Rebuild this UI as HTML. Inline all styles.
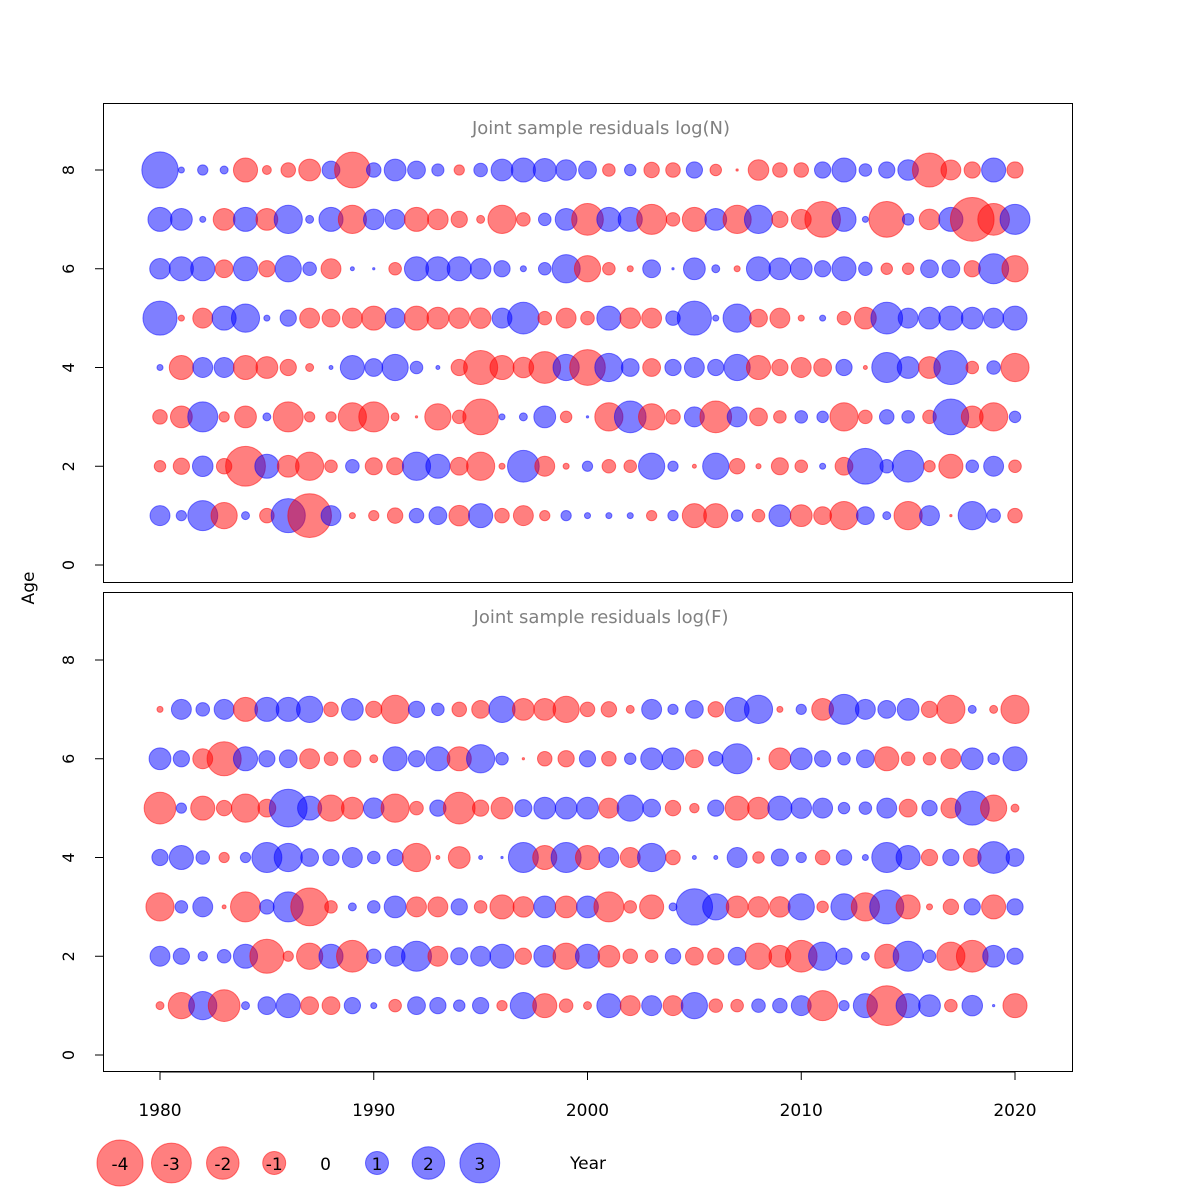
<!DOCTYPE html>
<html><head><meta charset="utf-8"><style>
body{margin:0;background:#fff}
svg{display:block;font-family:"DejaVu Sans","Liberation Sans",sans-serif}
</style></head><body>
<svg id="chart" width="1200" height="1200" viewBox="0 0 1200 1200" xmlns="http://www.w3.org/2000/svg">
<rect width="1200" height="1200" fill="#fff"/>
<g id="g"></g>
</svg>
<script>
const years = [];
for (let y = 1980; y <= 2020; y++) years.push(y);
const xTicks = [1980, 1990, 2000, 2010, 2020];
const yTicks = [0, 2, 4, 6, 8];
const legendValues = [-4, -3, -2, -1, 0, 1, 2, 3];
const topAges = [1, 2, 3, 4, 5, 6, 7, 8];
const bottomAges = [1, 2, 3, 4, 5, 6, 7];

const topN = {
8:[2.5,0.07,0.2,0.12,-1.1,-0.15,-0.4,-0.9,0.6,-2.4,0.4,0.9,0.6,0.28,-0.2,0.35,0.9,1.1,1.0,0.8,0.6,-0.3,0.25,-0.45,-0.4,0.5,-0.25,-0.01,-0.8,-0.4,-0.4,0.5,1.1,0.3,0.5,0.8,-2.2,-0.75,-0.5,1.1,-0.5],
7:[1.1,0.9,0.07,-0.9,1.1,-0.9,1.5,0.12,1.1,-1.5,0.8,0.75,-1.1,-0.8,-0.5,-0.12,-1.5,-0.35,0.3,0.9,-1.9,1.1,1.1,-1.7,-0.35,-1.1,0.9,-1.5,1.5,-0.5,-0.75,-2.4,1.1,0.07,-2.4,0.25,-0.8,1.1,-3.6,-1.9,1.7],
6:[0.8,1.1,1.1,-0.6,1.1,-0.5,1.3,0.35,-0.75,0.03,0.01,-0.3,1.1,1.1,1.1,0.8,0.5,0.07,0.3,1.5,-1.3,-0.3,-0.07,0.6,0.01,0.9,0.12,-0.07,1.1,0.9,0.9,0.5,1.1,0.35,-0.25,-0.25,0.6,0.6,-0.5,1.7,-1.3],
5:[2.2,-0.07,-0.75,1.1,1.5,0.07,0.5,-0.75,-0.6,-0.75,-1.1,0.75,-1.1,-0.9,-0.8,-0.8,0.75,1.9,-0.35,-0.75,-0.35,1.1,-0.8,-0.75,0.4,2.2,0.07,1.5,-0.6,-0.75,-0.07,0.07,-0.35,-0.9,1.9,0.75,0.9,1.1,0.9,0.75,1.1],
4:[0.07,-1.1,0.75,0.75,-1.1,-0.9,-0.5,-0.12,0.03,1.1,0.6,1.3,0.3,0.03,-0.5,-2.2,-1.1,-0.8,-1.9,1.3,-2.4,1.5,0.6,-0.6,0.5,0.75,0.5,1.3,-1.1,-0.5,-0.75,-0.6,0.5,-0.03,1.7,0.9,-0.9,2.2,-0.3,0.35,-1.5],
3:[-0.4,-0.9,1.7,-0.2,-0.9,0.12,-1.7,-0.2,-0.2,-1.5,-1.7,-0.12,-0.01,-1.3,-0.35,-2.4,0.07,0.12,0.9,-0.25,0.01,-1.5,1.9,-1.3,-0.4,0.75,-1.9,0.75,-0.6,-0.3,0.3,0.25,-1.5,-0.35,0.4,0.3,-0.35,2.4,-0.9,-1.5,0.25],
2:[-0.25,-0.5,0.8,-0.45,-3.0,1.1,-0.9,-1.5,-0.3,0.35,-0.55,-0.55,1.5,1.1,-0.6,-1.5,-0.07,1.9,-0.75,-0.07,0.2,-0.35,-0.3,1.3,0.2,-0.03,1.3,-0.45,-0.05,-0.55,-0.3,0.07,-0.6,2.4,0.35,1.9,-0.25,-1.1,0.3,0.75,-0.3],
1:[0.75,0.2,1.7,-1.3,0.12,-0.4,2.2,-3.6,0.75,-0.07,-0.2,-0.45,0.4,0.6,-0.8,1.1,-0.4,-0.75,-0.2,0.2,0.07,0.07,0.07,-0.2,0.2,-1.1,-1.1,0.25,-0.3,0.9,-0.9,-0.6,-1.5,0.6,0.12,-1.5,0.75,-0.01,1.5,0.35,-0.4]
};
const bottomF = {
7:[-0.07,0.75,0.35,0.75,-1.1,1.1,1.1,1.3,-0.4,0.9,-0.5,-1.5,0.5,0.3,-0.4,-0.6,1.3,-0.9,-0.9,-1.3,-0.4,-0.45,-0.12,0.75,0.2,0.6,-0.45,1.1,1.5,-0.07,0.2,-0.9,1.7,0.75,0.6,0.9,-0.5,-1.5,0.12,-0.12,-1.5],
6:[0.9,0.5,-0.75,-2.2,1.1,0.5,0.6,-0.75,-0.35,-0.55,-0.12,1.1,0.5,1.1,-1.1,1.5,0.3,-0.01,-0.4,-0.5,0.5,-0.4,0.25,0.9,0.9,-0.6,0.4,1.7,-0.01,-0.9,0.9,0.5,0.3,0.6,-1.1,-0.35,-0.3,-0.75,0.9,0.25,1.1],
5:[-1.9,0.2,-1.1,-0.45,-1.5,-0.6,2.7,1.1,-1.3,-0.9,0.8,-1.5,-0.35,0.5,-1.9,-0.5,-0.9,0.55,0.9,0.9,0.9,-0.75,1.3,0.6,-0.45,-0.17,0.5,-1.1,-0.9,1.1,0.8,0.75,0.25,0.3,0.75,-0.6,0.45,-0.75,2.2,-1.3,-0.12],
4:[0.5,1.1,0.35,-0.2,0.2,1.7,1.5,0.6,0.5,0.75,0.3,0.5,-1.5,-0.03,-0.9,0.03,0.01,1.7,-1.1,1.7,-1.1,0.75,-0.75,1.5,-0.4,0.03,0.03,0.75,-0.25,0.55,0.2,-0.4,0.45,0.07,1.7,1.1,-0.5,0.5,-0.6,1.9,0.6],
3:[-1.5,0.3,0.75,-0.03,-1.7,0.4,1.7,-2.7,-0.3,0.12,0.3,0.9,-0.75,-0.75,0.5,-0.3,-1.1,-0.8,0.9,-0.9,0.9,-1.7,-0.3,-1.1,0.12,2.5,1.3,-0.9,-0.8,-0.8,1.3,-0.25,1.3,-1.5,2.2,-1.1,-0.07,-0.45,0.5,-1.1,0.5],
2:[0.75,0.5,0.17,0.35,1.1,-2.2,-0.2,-1.3,1.1,-1.9,0.4,0.75,1.7,-0.75,0.55,0.75,1.1,-0.5,0.9,-1.3,1.1,-0.9,-0.4,-0.3,0.45,-0.6,-0.5,0.6,-1.3,-0.9,-1.9,1.5,0.5,0.12,-1.1,1.7,0.3,-1.5,-1.9,0.9,0.5],
1:[-0.12,-1.3,1.5,-1.9,0.12,0.6,1.1,-0.6,-0.6,0.5,0.07,-0.3,0.6,0.5,0.25,0.5,-0.2,1.3,-1.1,-0.35,-0.12,1.1,-0.75,0.75,-0.75,1.3,-0.35,-0.3,0.35,0.4,0.75,-1.7,0.2,1.1,-3.0,1.1,0.9,-0.3,0.8,0.01,-1.1]
};

const NS = "http://www.w3.org/2000/svg";
const g = document.getElementById('g');
function el(tag, attrs, parent) {
  const e = document.createElementNS(NS, tag);
  for (const k in attrs) e.setAttribute(k, attrs[k]);
  (parent || g).appendChild(e);
  return e;
}
const xScale = y => 160 + (y - 1980) * 21.375;
const rScale = v => 11.5 * Math.sqrt(Math.abs(v));
const RED = "rgba(255,0,0,0.5)", BLUE = "rgba(0,0,255,0.5)";
const BOX_L = 103, BOX_R = 1072;

function panel(name, top, bottom, y0, title, data, ages) {
  const yScale = v => y0 - v * 49.375;
  const pg = el('g', {});
  
  
  const box = el('rect', {x: BOX_L + 0.5, y: top + 0.5, width: BOX_R - BOX_L, height: bottom - top, fill: 'none', stroke: '#000', 'stroke-width': 1}, pg);
  
  
  const t = el('text', {x: 601, y: top + 31, 'text-anchor': 'middle', 'font-size': 18, fill: '#808080'}, pg);
  t.textContent = title;
  
  
  yTicks.forEach(v => {
    const yy = yScale(v);
    el('line', {x1: 95, x2: BOX_L, y1: yy, y2: yy, stroke: '#000'}, pg);
    const lb = el('text', {x: 0, y: 0, transform: `translate(74 ${yy}) rotate(-90)`, 'text-anchor': 'middle', 'font-size': 16}, pg);
    lb.textContent = v;
    
    
  });
  ages.forEach(a => {
    data[a].forEach((v, i) => {
      const r = rScale(v);
      if (r < 0.3) return;
      const c = el('circle', {cx: xScale(years[i]), cy: yScale(a), r: r, fill: v < 0 ? RED : BLUE, stroke: v < 0 ? RED : BLUE, 'stroke-width': 1}, pg);
      
      
    });
  });
}
panel('top-panel-logN', 103, 582, 565, 'Joint sample residuals log(N)', topN, topAges);
panel('bottom-panel-logF', 592, 1071, 1055, 'Joint sample residuals log(F)', bottomF, bottomAges);

xTicks.forEach(v => {
  const xx = xScale(v);
  el('line', {x1: xx, x2: xx, y1: 1072, y2: 1080, stroke: '#000'});
  const lb = el('text', {x: xx, y: 1116, 'text-anchor': 'middle', 'font-size': 17});
  lb.textContent = v;
  
  
});
el('line', {x1: xScale(1980), x2: xScale(2020), y1: 1072, y2: 1072, stroke: '#000'});

const ax = el('text', {x: 0, y: 0, transform: 'translate(34 588) rotate(-90)', 'text-anchor': 'middle', 'font-size': 17});
ax.textContent = 'Age';



legendValues.forEach((v, i) => {
  const cx = 120 + i * 51.4;
  if (v !== 0) {
    const c = el('circle', {cx: cx, cy: 1163, r: rScale(v), fill: v < 0 ? RED : BLUE, stroke: v < 0 ? RED : BLUE});
    
    
  }
  const t = el('text', {x: cx, y: 1170, 'text-anchor': 'middle', 'font-size': 17});
  t.textContent = v;
  
  
});
const xt = el('text', {x: 588, y: 1169, 'text-anchor': 'middle', 'font-size': 17});
xt.textContent = 'Year';


</script>
</body></html>
